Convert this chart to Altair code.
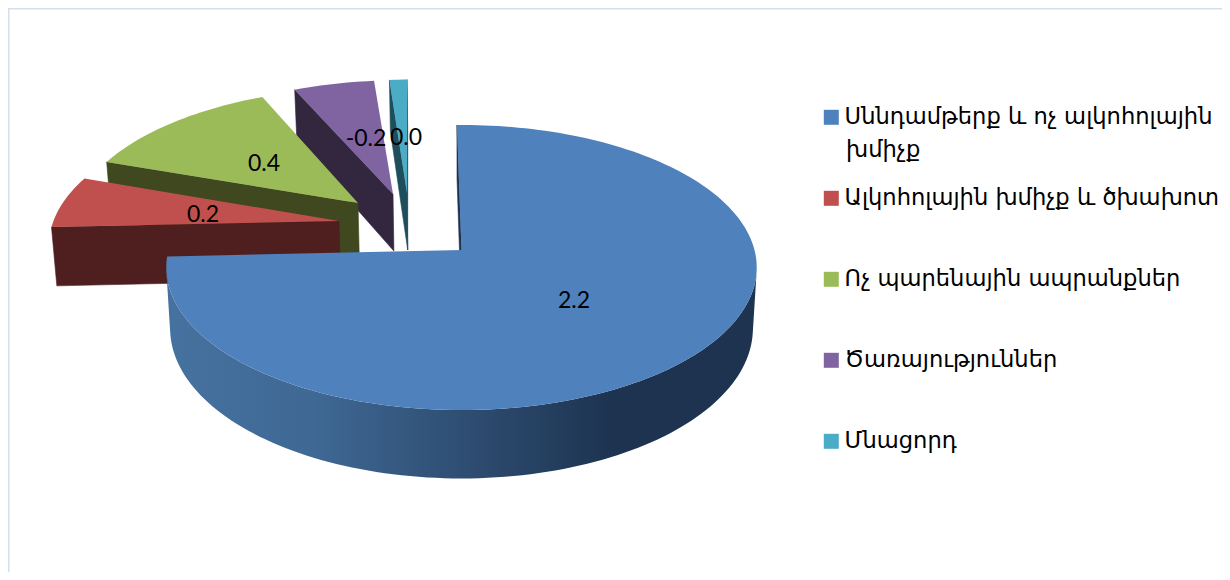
import math
import altair as alt
import pandas as pd

# ---- chart values
NAMES = ["Սննդամթերք և ոչ ալկոհոլային խմիչք", "Ալկոհոլային խմիչք և ծխախոտ",
         "Ոչ պարենային ապրանքներ", "Ծառայություններ", "Մնացորդ"]
FIRST_LINE = "Սննդամթերք և ոչ ալկոհոլային"
SECOND_LINE = "խմիչք"
SHARES = [2.233, 0.1825, 0.384, 0.155, 0.045]
LABELS = ["2.2", "0.2", "0.4", "-0.2", "0.0"]
TOP_COLORS = ["#4f81bd", "#c0504d", "#9bbb59", "#8064a2", "#4bacc6"]
WALL_COLORS = ["#1d3350", "#4f1f1f", "#40481f", "#33263f", "#1e4e5c"]

# ---- layout (screen pixels, the page margin is removed below)
W, H = 1214, 564
M = 8
CX, CY, RX, RY, K, DEPTH, SHRINK = 461.5, 250.0, 293.0, 140.4, 0.1228, 60.0, 0.987
TIPS = [(461.5, 250), (339, 221), (358, 203), (393, 194), (407, 193)]
TRIM = [(-0.4, 0), (0, 0), (0, 0), (0, 0), (0.65, -0.7)]
LABEL_XY = [(574, 301), (203, 215), (264, 164), (366, 139), (406, 138)]
START = -0.6


def top(u, v):
    s = 1 / (1 + K * v)
    return (CX + RX * u * s, CY - RY * v * s)


def bottom(u, v):
    x, y = top(u, v)
    return (CX + (x - CX) * SHRINK, y + DEPTH / (1 + K * v))


def plan_of(sx, sy):
    t = (CY - sy) / RY
    v = t / (1 - K * t)
    return ((sx - CX) * (1 + K * v) / RX, v)


def pix(p):
    return [p[0] - M, p[1] - M]


def feature(points, name, color):
    ring = [pix(p) for p in points]
    ring.append(ring[0])
    return {"type": "Feature", "geometry": {"type": "Polygon", "coordinates": [ring]},
            "properties": {"name": name, "col": color}}


def area(q):
    return sum(q[i][0] * q[(i + 1) % len(q)][1] - q[(i + 1) % len(q)][0] * q[i][1] for i in range(len(q)))


total = sum(SHARES)
bounds = []
a = START
for i, s in enumerate(SHARES):
    b = a + s / total * 360
    bounds.append((a + TRIM[i][0], b + TRIM[i][1]))
    a = b

tops, walls, blue_front = [], [], []
for i in reversed(range(len(NAMES))):
    a, b = bounds[i]
    pu, pv = plan_of(*TIPS[i])
    n = max(4, int((b - a) / 1.5))
    outline = [(pu, pv)]
    for j in range(n + 1):
        th = math.radians(a + (b - a) * j / n)
        outline.append((pu + math.sin(th), pv + math.cos(th)))
    L = len(outline)
    for j in range(L):
        p, q = outline[j], outline[(j + 1) % L]
        quad = [top(*p), top(*q), bottom(*q), bottom(*p)]
        if area(quad) >= 0:
            continue
        if i == 0 and 0 < j < L - 1:
            blue_front.append((p, q))
        else:
            walls.append(feature(quad, NAMES[i], WALL_COLORS[i]))
    tops.append(feature([top(*p) for p in outline], NAMES[i], TOP_COLORS[i]))

front_run = [blue_front[0][0]] + [q for _, q in blue_front]
blue_wall = [feature([top(*p) for p in front_run] + [bottom(*p) for p in reversed(front_run)],
                     NAMES[0], WALL_COLORS[0])]

PROJ = dict(type="identity", scale=1, translate=[0, 0])

wall_layer = alt.Chart(alt.Data(values=walls, format=alt.DataFormat(type="json"))).mark_geoshape(strokeWidth=0.6).encode(
    fill=alt.Fill("properties.col:N", scale=None, legend=None),
    stroke=alt.Stroke("properties.col:N", scale=None, legend=None),
).project(**PROJ)

blue_layer = alt.Chart(alt.Data(values=blue_wall, format=alt.DataFormat(type="json"))).mark_geoshape(
    strokeWidth=0,
    fill=alt.Gradient(
        gradient="linear", x1=0, x2=1, y1=0, y2=0,
        stops=[alt.GradientStop(offset=0, color="#46729f"),
               alt.GradientStop(offset=0.25, color="#3f6894"),
               alt.GradientStop(offset=0.76, color="#1d3350"),
               alt.GradientStop(offset=1, color="#1d3350")],
    ),
).project(**PROJ)

top_layer = alt.Chart(alt.Data(values=tops, format=alt.DataFormat(type="json"))).mark_geoshape(strokeWidth=0).encode(
    color=alt.Color(
        "properties.name:N",
        scale=alt.Scale(domain=NAMES, range=TOP_COLORS),
        sort=NAMES,
        legend=alt.Legend(
            title=None, orient="none", legendX=820 - M, legendY=106 - M, symbolType="square",
            symbolSize=225, symbolStrokeWidth=0, labelFontSize=22.6, labelFont="DejaVu Sans",
            labelColor="#000000", labelLimit=500, labelOffset=2, rowPadding=58, columns=1,
            labelExpr=f"datum.label == '{NAMES[0]}' ? '{FIRST_LINE}' : datum.label",
        ),
    )
).project(**PROJ)

xs = alt.Scale(domain=[0, W], range=[0, W])
ys = alt.Scale(domain=[0, H], range=[0, H])

labels = pd.DataFrame({"text": LABELS,
                       "x": [p[0] - M for p in LABEL_XY],
                       "y": [p[1] - M for p in LABEL_XY]})
label_layer = alt.Chart(labels).mark_text(font="Lato", fontSize=23, color="#000000").encode(
    x=alt.X("x:Q", scale=xs, axis=None), y=alt.Y("y:Q", scale=ys, axis=None), text="text:N")

second = pd.DataFrame({"text": [SECOND_LINE], "x": [846 - M], "y": [150 - M]})
second_layer = alt.Chart(second).mark_text(font="DejaVu Sans", fontSize=22.6, color="#000000", align="left").encode(
    x=alt.X("x:Q", scale=xs, axis=None), y=alt.Y("y:Q", scale=ys, axis=None), text="text:N")

frame_left = alt.Chart(pd.DataFrame({"k": [0]})).mark_rule(color="#d5e0ef", strokeWidth=2).encode(
    x=alt.value(0.5), y=alt.value(0), y2=alt.value(H))
frame_top = alt.Chart(pd.DataFrame({"k": [0]})).mark_rule(color="#d5e0ef", strokeWidth=2).encode(
    y=alt.value(0.5), x=alt.value(0), x2=alt.value(W))

chart = alt.layer(
    frame_left, frame_top, wall_layer, blue_layer, top_layer, label_layer, second_layer
).resolve_scale(color="independent", fill="independent", stroke="independent").properties(
    width=W, height=H, padding=0, autosize=alt.AutoSizeParams(type="none"), background="#ffffff"
).configure_view(stroke=None)

chart.save("out.html", embed_options={"renderer": "svg", "actions": False})
